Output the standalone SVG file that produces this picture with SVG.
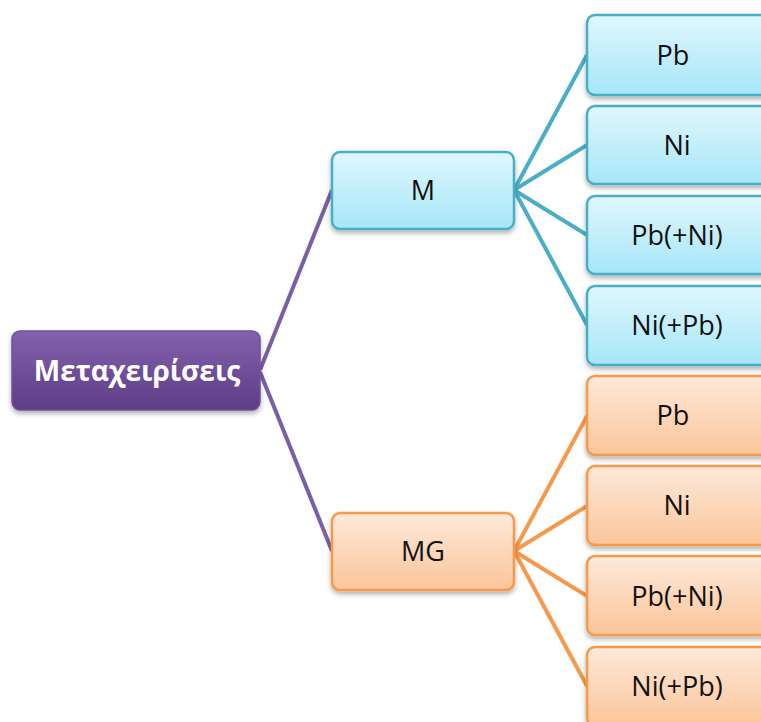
<svg xmlns="http://www.w3.org/2000/svg" width="761" height="722" viewBox="0 0 761 722">
<defs>
<linearGradient id="gP" x1="0" y1="0" x2="0" y2="1"><stop offset="0" stop-color="#8361ad"/><stop offset="1" stop-color="#5e3d86"/></linearGradient>
<linearGradient id="gB" x1="0" y1="0" x2="0" y2="1"><stop offset="0" stop-color="#e0f7fd"/><stop offset="1" stop-color="#a6e6f9"/></linearGradient>
<linearGradient id="gO" x1="0" y1="0" x2="0" y2="1"><stop offset="0" stop-color="#fde9da"/><stop offset="1" stop-color="#fbc59a"/></linearGradient>
<filter id="sh" x="-10%" y="-10%" width="130%" height="140%"><feDropShadow dx="0" dy="3" stdDeviation="2.5" flood-color="#000" flood-opacity="0.3"/></filter>
</defs>
<style>
.lp{stroke:#7b5ea8;stroke-width:4;fill:none}
.lb{stroke:#4aaec8;stroke-width:4;fill:none}
.lo{stroke:#f7994b;stroke-width:4;fill:none}
.root{fill:url(#gP);stroke:#6f52a0;stroke-width:1.5;filter:url(#sh)}
.bb{fill:url(#gB);stroke:#4aaec8;stroke-width:2.5;filter:url(#sh)}
.ob{fill:url(#gO);stroke:#f7994b;stroke-width:2.5;filter:url(#sh)}
.t{font-family:"Open Sans","Noto Sans","DejaVu Sans",sans-serif;font-size:27px;fill:#111;text-anchor:middle;dominant-baseline:central}
.tr{font-family:"Open Sans","Noto Sans","DejaVu Sans",sans-serif;font-size:28px;font-weight:bold;fill:#fff;text-anchor:middle;dominant-baseline:central}
</style>
<g id="connectors">
<path class="lp" d="M260 370 L332 190"/>
<path class="lp" d="M260 372 L332 551"/>
<path class="lb" d="M514 190 L587 55"/>
<path class="lb" d="M514 190 L587 145"/>
<path class="lb" d="M514 190 L587 235"/>
<path class="lb" d="M514 190 L587 325"/>
<path class="lo" d="M514 551 L587 416"/>
<path class="lo" d="M514 551 L587 506"/>
<path class="lo" d="M514 551 L587 596"/>
<path class="lo" d="M514 551 L587 686"/>
</g>
<g id="root"><rect class="root" x="12" y="331" width="248" height="79" rx="8"/><text class="tr" x="137" y="370">Μεταχειρίσεις</text></g>
<g id="M"><rect class="bb" x="332" y="152" width="182" height="77" rx="8"/><text class="t" x="423" y="189">M</text></g>
<g id="MG"><rect class="ob" x="332" y="513" width="182" height="77" rx="8"/><text class="t" x="423" y="550">MG</text></g>
<g id="M_Pb"><rect class="bb" x="587" y="15" width="190" height="80" rx="8"/><text class="t" x="673" y="54">Pb</text></g>
<g id="M_Ni"><rect class="bb" x="587" y="106" width="190" height="78" rx="8"/><text class="t" x="677" y="144">Ni</text></g>
<g id="M_PbNi"><rect class="bb" x="587" y="196" width="190" height="78" rx="8"/><text class="t" x="677" y="234">Pb(+Ni)</text></g>
<g id="M_NiPb"><rect class="bb" x="587" y="286" width="190" height="79" rx="8"/><text class="t" x="677" y="324">Ni(+Pb)</text></g>
<g id="MG_Pb"><rect class="ob" x="587" y="376" width="190" height="79" rx="8"/><text class="t" x="673" y="414">Pb</text></g>
<g id="MG_Ni"><rect class="ob" x="587" y="466" width="190" height="79" rx="8"/><text class="t" x="677" y="504">Ni</text></g>
<g id="MG_PbNi"><rect class="ob" x="587" y="556" width="190" height="79" rx="8"/><text class="t" x="677" y="595">Pb(+Ni)</text></g>
<g id="MG_NiPb"><rect class="ob" x="587" y="647" width="190" height="79" rx="8"/><text class="t" x="677" y="685">Ni(+Pb)</text></g>
</svg>
